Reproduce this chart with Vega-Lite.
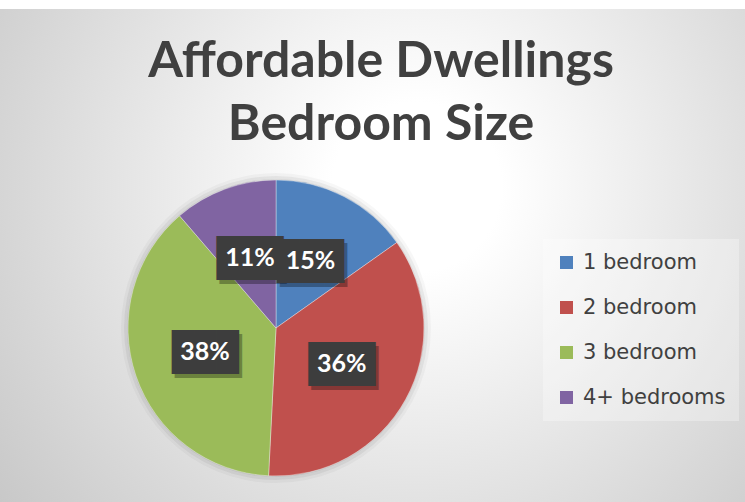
{
  "$schema": "https://vega.github.io/schema/vega-lite/v6.json",
  "width": 938,
  "height": 638,
  "autosize": {"type": "none"},
  "padding": {"left": -193, "top": 9, "right": 0, "bottom": -145},
  "background": "#ffffff",
  "config": {"view": {"stroke": null}},
  "title": {
    "text": ["Affordable Dwellings", "Bedroom Size"],
    "orient": "top",
    "anchor": "middle",
    "frame": "group",
    "offset": -181,
    "baseline": "alphabetic",
    "dx": 105,
    "font": "Lato",
    "fontSize": 50,
    "fontWeight": "bold",
    "color": "#404040",
    "lineHeight": 63
  },
  "data": {
    "values": [
      {"bedroom": "1 bedroom", "value": 0.152},
      {"bedroom": "2 bedroom", "value": 0.356},
      {"bedroom": "3 bedroom", "value": 0.379},
      {"bedroom": "4+ bedrooms", "value": 0.113}
    ]
  },
  "layer": [
    {
      "data": {"values": [{}]},
      "mark": {
        "type": "rect",
        "color": {
          "gradient": "radial",
          "x1": 0.65, "y1": 0.35, "r1": 0.0,
          "x2": 0.65, "y2": 0.35, "r2": 0.6,
          "stops": [
            {"offset": 0, "color": "#ffffff"},
            {"offset": 0.15, "color": "#ffffff"},
            {"offset": 1, "color": "#c3c3c3"}
          ]
        }
      },
      "encoding": {}
    },
    {
      "data": {"values": [{}]},
      "mark": {"type": "arc", "theta": 0, "theta2": 6.2832, "outerRadius": 155, "color": "#000000", "opacity": 0.03, "dx": 1, "dy": 7},
      "encoding": {}
    },
    {
      "data": {"values": [{}]},
      "mark": {"type": "arc", "theta": 0, "theta2": 6.2832, "outerRadius": 152, "color": "#000000", "opacity": 0.05, "dx": 1, "dy": 6},
      "encoding": {}
    },
    {
      "data": {"values": [{}]},
      "mark": {"type": "arc", "theta": 0, "theta2": 6.2832, "outerRadius": 149, "color": "#000000", "opacity": 0.07, "dx": 1, "dy": 4},
      "encoding": {}
    },
    {
      "mark": {"type": "arc", "outerRadius": 148, "stroke": "#ffffff", "strokeWidth": 0.6, "strokeOpacity": 0.6},
      "encoding": {
        "theta": {"field": "value", "type": "quantitative", "stack": true},
        "order": {"field": "bedroom", "type": "nominal"},
        "color": {
          "field": "bedroom",
          "type": "nominal",
          "scale": {
            "domain": ["1 bedroom", "2 bedroom", "3 bedroom", "4+ bedrooms"],
            "range": ["#4f81bd", "#c0504d", "#9bbb59", "#8064a2"]
          },
          "legend": {
            "title": null,
            "orient": "none",
            "legendX": 736,
            "legendY": 230,
            "padding": 13,
            "fillColor": "rgba(255,255,255,0.3)",
            "symbolType": "square",
            "symbolSize": 169,
            "symbolStrokeWidth": 0,
            "labelFont": "DejaVu Sans",
            "labelFontSize": 21,
            "labelColor": "#404040",
            "labelOffset": 6,
            "rowPadding": 23,
            "labelLimit": 300
          }
        }
      }
    },
    {
      "mark": {"type": "text", "radius": 75, "font": "DejaVu Sans Mono", "fontSize": 37, "color": "#000000", "opacity": 0.3, "dx": 3, "dy": 6, "align": "center", "baseline": "middle"},
      "encoding": {
        "theta": {"field": "value", "type": "quantitative", "stack": true},
        "order": {"field": "bedroom", "type": "nominal"},
        "detail": {"field": "bedroom", "type": "nominal"},
        "text": {"value": "███"}
      }
    },
    {
      "mark": {"type": "text", "radius": 75, "font": "DejaVu Sans Mono", "fontSize": 37, "color": "#3d3d3d", "dy": 2, "align": "center", "baseline": "middle"},
      "encoding": {
        "theta": {"field": "value", "type": "quantitative", "stack": true},
        "order": {"field": "bedroom", "type": "nominal"},
        "detail": {"field": "bedroom", "type": "nominal"},
        "text": {"value": "███"}
      }
    },
    {
      "mark": {"type": "text", "radius": 75, "font": "Lato", "fontSize": 25, "fontWeight": "bold", "color": "#ffffff", "align": "center", "baseline": "middle"},
      "encoding": {
        "theta": {"field": "value", "type": "quantitative", "stack": true},
        "order": {"field": "bedroom", "type": "nominal"},
        "detail": {"field": "bedroom", "type": "nominal"},
        "text": {"field": "value", "type": "quantitative", "format": ".0%"}
      }
    }
  ]
}
